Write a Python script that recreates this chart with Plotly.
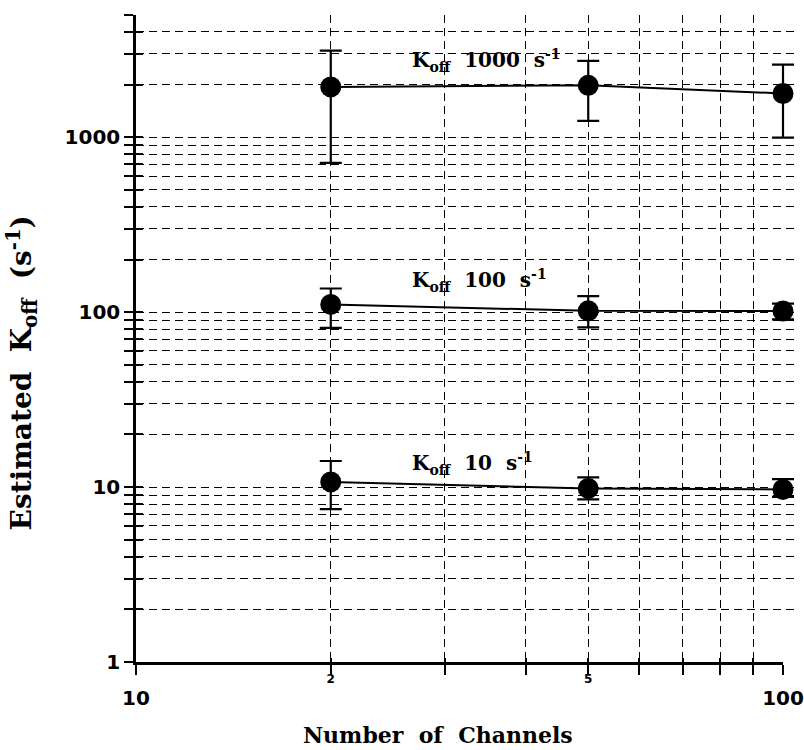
import numpy as np
import plotly.graph_objects as go

# ---- data ----
channels = [20, 50, 100]

koff_1000 = [1940, 1980, 1780]
koff_1000_hi = [3130, 2730, 2600]
koff_1000_lo = [713, 1240, 996]

koff_100 = [110.7, 101.8, 101.4]
koff_100_hi = [136.6, 123.4, 112.0]
koff_100_lo = [81.3, 81.8, 91.0]

koff_10 = [10.7, 9.83, 9.7]
koff_10_hi = [14.1, 11.36, 11.1]
koff_10_lo = [7.48, 8.5, 8.8]

series_names = ["1000", "100", "10"]
series_vals = [koff_1000, koff_100, koff_10]
series_hi = [koff_1000_hi, koff_100_hi, koff_10_hi]
series_lo = [koff_1000_lo, koff_100_lo, koff_10_lo]

# label anchor positions (data units)
label_x = 26.5
label_y = [2754, 152, 13.7]

# axis ticks
x_tickvals = [10, 20, 30, 40, 50, 60, 70, 80, 90, 100]
x_small_text = ["", "2", "", "", "5", "", "", "", "", ""]
x_big_text = ["10", "", "", "", "", "", "", "", "", "100"]
y_tickvals = [m * 10 ** e for e in range(0, 3) for m in range(1, 10)] + [1000, 2000, 3000, 4000, 5000]
y_ticktext = [str(v) if v in (1, 10, 100, 1000) else "" for v in y_tickvals]

SERIF = "DejaVu Serif"
SANS = "DejaVu Sans"

# geometry: plot frame 647 px wide inside a 663 px wide paper area
W_FRAME, W_PAPER = 647.0, 663.0
dom_end = W_FRAME / W_PAPER
xr = [1, 2]
xr_data = [1, 1 + (xr[1] - xr[0]) * W_PAPER / W_FRAME]
yr = [0, np.log10(5000)]
dash = "8px,5px"

fig = go.Figure()
for name, vals, hi, lo in zip(series_names, series_vals, series_hi, series_lo):
    fig.add_trace(go.Scatter(
        x=channels, y=vals, mode="lines+markers", xaxis="x3", yaxis="y",
        line=dict(color="black", width=2),
        marker=dict(color="black", size=21, symbol="circle"),
        error_y=dict(type="data", symmetric=False,
                     array=[h - v for h, v in zip(hi, vals)],
                     arrayminus=[v - l for v, l in zip(vals, lo)],
                     color="black", thickness=2.2, width=11),
        cliponaxis=False,
        showlegend=False, name=name,
    ))

# invisible traces for the base and overlay axes
fig.add_trace(go.Scatter(x=[10, 100], y=[1, 5000], xaxis="x", yaxis="y",
                         mode="markers", marker=dict(opacity=0), hoverinfo="skip",
                         showlegend=False))
fig.add_trace(go.Scatter(x=[10, 100], y=[1, 5000], xaxis="x2", yaxis="y2",
                         mode="markers", marker=dict(opacity=0), hoverinfo="skip",
                         showlegend=False))

for name, ly in zip(series_names, label_y):
    fig.add_annotation(
        x=np.log10(label_x), y=np.log10(ly), xref="x", yref="y",
        text="K<sub>off</sub>\u00a0\u00a0" + name + "\u00a0\u00a0s<sup>-1</sup>",
        showarrow=False, xanchor="left", yanchor="middle",
        font=dict(family=SERIF, size=20, color="black", weight="bold"),
    )

# axis titles
fig.add_annotation(x=(437.5 - 136) / W_PAPER, y=-0.113, xref="paper", yref="paper",
                   text="Number\u00a0\u00a0of\u00a0\u00a0Channels", showarrow=False,
                   xanchor="center", yanchor="middle",
                   font=dict(family=SERIF, size=22, color="black", weight="bold"))
fig.add_annotation(x=(22 - 136) / W_PAPER, y=0.446, xref="paper", yref="paper",
                   text="Estimated\u00a0\u00a0K<sub>off</sub>\u00a0\u00a0(s<sup>-1</sup>)", showarrow=False,
                   textangle=-90, xanchor="center", yanchor="middle",
                   font=dict(family=SERIF, size=28, color="black", weight="bold"))

fig.update_layout(
    width=804, height=750,
    margin=dict(l=136, r=804 - 136 - int(W_PAPER), t=15, b=88, autoexpand=False),
    paper_bgcolor="white", plot_bgcolor="rgba(0,0,0,0)",
    xaxis=dict(type="log", range=xr, domain=[0, dom_end], anchor="y",
               tickmode="array", tickvals=x_tickvals, ticktext=x_small_text,
               tickfont=dict(family=SANS, size=12, color="black", weight="bold"),
               ticks="outside", ticklen=10, tickwidth=2, tickcolor="black",
               ticklabelstandoff=-6,
               showline=True, linecolor="black", linewidth=2.5,
               showgrid=True, gridcolor="black", gridwidth=1, griddash=dash,
               zeroline=False, automargin=False),
    xaxis2=dict(type="log", range=xr, overlaying="x", anchor="y2", side="bottom",
                tickmode="array", tickvals=x_tickvals, ticktext=x_big_text,
                tickfont=dict(family=SANS, size=20, color="black", weight="bold"),
                ticks="inside", ticklen=4, tickwidth=2, tickcolor="black",
                ticklabelstandoff=22,
                showline=False, showgrid=False, zeroline=False, automargin=False),
    xaxis3=dict(type="log", range=xr_data, domain=[0, 1], anchor="y", visible=False,
                showgrid=False, zeroline=False, automargin=False),
    yaxis=dict(type="log", range=yr, tickmode="array", tickvals=y_tickvals, ticktext=y_ticktext,
               anchor="x",
               tickfont=dict(family=SANS, size=20, color="black", weight="bold"),
               ticks="outside", ticklen=9, tickwidth=2, tickcolor="black",
               showline=True, linecolor="black", linewidth=2.5,
               showgrid=True, gridcolor="black", gridwidth=1, griddash=dash,
               zeroline=False, automargin=False),
    yaxis2=dict(type="log", range=yr, overlaying="y", anchor="x2", side="left",
                tickmode="array", tickvals=y_tickvals, ticktext=["" for _ in y_tickvals],
                ticks="inside", ticklen=7, tickwidth=2, tickcolor="black",
                showline=False, showgrid=False, zeroline=False, automargin=False),
)

fig.write_html("out.html")
